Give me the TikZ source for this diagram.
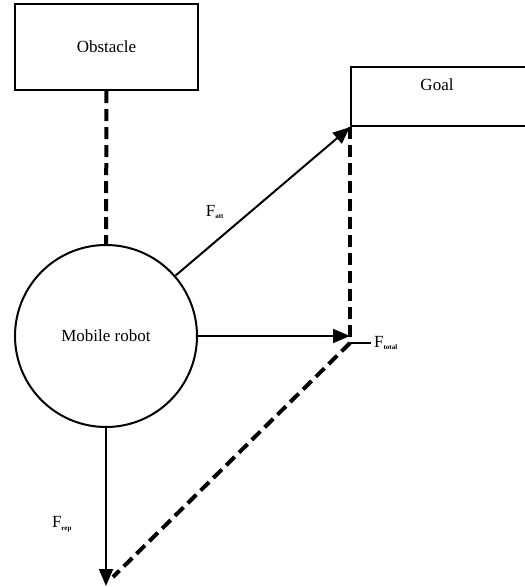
\documentclass[tikz,border=0pt]{standalone}
\usepackage{fontspec}
\setmainfont{Liberation Serif}
\usetikzlibrary{arrows.meta,positioning}

\newcommand{\subtxt}[1]{\textsubscript{\fontsize{7}{8}\selectfont\bfseries #1}}

\begin{document}
\begin{tikzpicture}[x=1pt, y=-1pt,
  box/.style={rectangle, draw=black, line width=2.2pt, font=\fontsize{17}{19}\selectfont, inner sep=0pt},
  robotshape/.style={circle, draw=black, line width=2pt, minimum size=182pt, inner sep=0pt, font=\fontsize{17}{19}\selectfont},
  force/.style={-{Triangle[length=17pt,width=14pt]}, line width=2pt},
  link/.style={line width=4pt, dash pattern=on 12pt off 6pt},
  lbl/.style={font=\fontsize{17}{19}\selectfont, inner sep=0pt}]
\useasboundingbox (0,0) rectangle (525,587);
\clip (0,0) rectangle (525,587);
\node[box, minimum width=183pt, minimum height=86pt] (obstacle) at (106.5,47) {Obstacle};
\node[box, minimum width=200pt, minimum height=59pt, anchor=north west] (goal) at (350,66) {};
\node[lbl] (goaltext) at (437,85) {Goal};
\node[robotshape] (robot) at (106,336) {Mobile robot};
\coordinate (total) at (350,336);
\coordinate (corner) at (350,343);
\coordinate (tick) at (371,343);
\coordinate (rep) at (106,586);
\coordinate (repend) at (113,577);
% dashed links
\draw[link] (obstacle.south) -- (robot.north);
\draw[link] (goal.south west) -- (corner);
\draw[link] (corner) -- (repend);
\draw[line width=2pt] (corner) -- (tick);
% forces
\draw[force] (robot.41) -- (goal.south west);
\draw[force] (robot.east) -- (total);
\draw[force] (robot.south) -- (rep);
\node[lbl] (att) at (215,212) {F\subtxt{att}};
\node[lbl, right=3pt of tick] (tot) {F\subtxt{total}};
\node[lbl] (rp) at (62,524) {F\subtxt{rep}};
\end{tikzpicture}
\end{document}
